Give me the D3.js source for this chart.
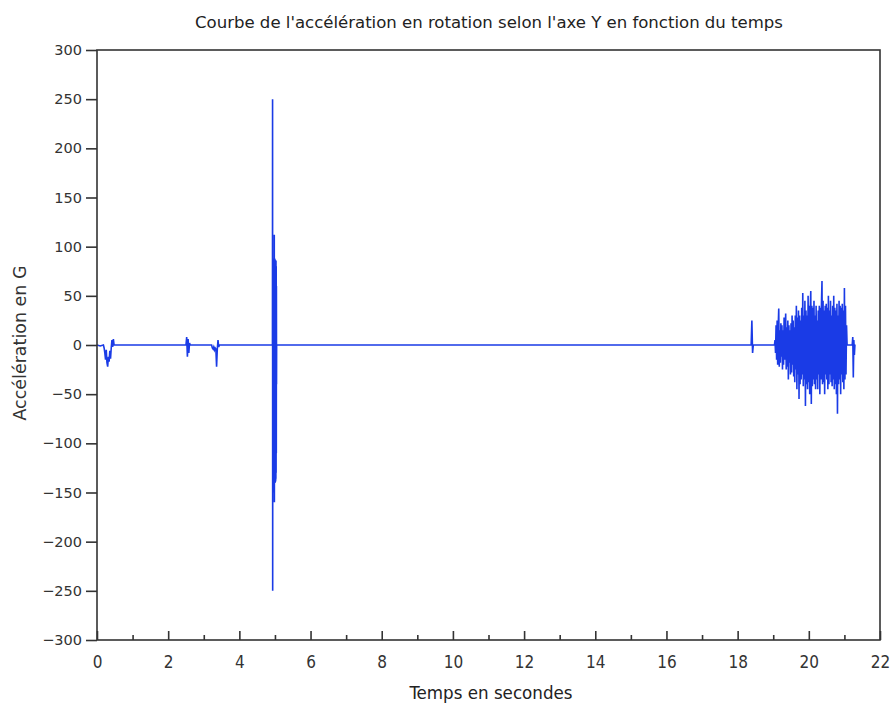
<!DOCTYPE html>
<html><head><meta charset="utf-8">
<script src="https://cdn.jsdelivr.net/npm/d3@7/dist/d3.min.js"></script>
<style>body{margin:0;background:#fff}</style>
</head><body>
<svg id="c" width="895" height="710"></svg>
<script>
// ---- data ----
const title = "Courbe de l'accélération en rotation selon l'axe Y en fonction du temps";
const xLabel = "Temps en secondes";
const yLabel = "Accélération en G";
const xTicks = [0,2,4,6,8,10,12,14,16,18,20,22];
const xMinorTicks = [1,3,5,7,9,11,13,15,17,19,21];
const yTicks = [300,250,200,150,100,50,0,-50,-100,-150,-200,-250,-300];

// sampled segments: start time, sample step, values
const segStart = [0.0, 0.18, 2.50, 3.22, 4.93, 18.38, 19.035, 21.09, 21.22];
const segStep  = [0.09, 0.02, 0.02, 0.02, 0.003, 0.02, 0.015, 0.06, 0.015];
const segA0 = [0, -1, 0];
const segA = [0,-3,-8,-15,-5,-18,-22,-12,-17,-6,-14,-3,5,-2,6,0];
const segB = [0,8,-12,6,-8,2,0];
const segC = [0,-3,-4,-2,-5,-3,-4,-22,-4,5,-2,0];
const segD = [0,250,-250,30,-60,88,-140,86,-138,85,-140,87,-139,86,-138,85,-150,112,-160,84,-140,88,-139,86,-138,87,-140,85,-139,86,-138,84,-136,86,-130,80,-110,60,-40,0];
const segE = [0,25,-8,0];
const segF = [0,
 5,-8,20,-15,25,-20,18,37,-22,15,
 -18,22,-12,20,-25,15,-20,28,-15,12,
 32,-25,18,-22,25,-35,20,-18,15,-30,
 22,-28,30,-20,25,-32,18,-38,30,-25,
 40,-45,28,-30,35,-55,30,-40,25,-35,
 38,-30,53,-42,30,-35,45,-62,35,-40,
 30,-45,50,-38,40,-50,35,55,-60,40,
 -42,38,-35,45,-40,30,-45,40,-35,25,
 -45,35,-30,40,-50,38,-35,42,65,-40,
 45,-38,35,-50,40,-30,42,-35,38,-45,
 50,-40,35,-30,45,-38,30,-42,40,-35,
 50,-45,38,-40,35,-50,42,-70,30,-40,
 45,-35,40,-50,38,-30,42,-38,35,-45,
 58,-35,40,-30,20,0];
const segG = [0,0,0];
const segH = [0,8,-33,5,-10,0,0];
const segValues = [segA0, segA, segB, segC, segD, segE, segF, segG, segH];

// ---- build points ----
const points = [];
segValues.forEach((vals, k) => {
  vals.forEach((v, i) => points.push([segStart[k] + i * segStep[k], v]));
});

// ---- layout ----
const svg = d3.select("#c");
const L = 97, R = 880, T = 50, B = 640;
const x = d3.scaleLinear().domain([0,22]).range([L,R]);
const y = d3.scaleLinear().domain([-300,300]).range([B,T]);
const axisCol = "#333";
const cond = "DejaVu Sans Condensed, DejaVu Sans";

svg.append("text").attr("x", 489).attr("y", 28).attr("text-anchor","middle")
  .attr("font-family",cond).attr("font-size",16)
  .attr("textLength",588).attr("lengthAdjust","spacingAndGlyphs")
  .attr("fill","#222").text(title);

// data line
const line = d3.line().x(d => x(d[0])).y(d => y(d[1]));
svg.append("path").datum(points).attr("d", line).attr("fill","none")
  .attr("stroke","#1a3be6").attr("stroke-width",1.6).attr("stroke-linejoin","miter");

// frame
svg.append("rect").attr("x",L).attr("y",T).attr("width",R-L).attr("height",B-T)
  .attr("fill","none").attr("stroke",axisCol).attr("stroke-width",1.6);

// y axis (ticks outward)
const yAxis = d3.axisLeft(y).tickValues(yTicks).tickSize(11).tickPadding(4)
  .tickFormat(d => d3.format("d")(d).replace("-", "\u2212"));
const gy = svg.append("g").attr("transform",`translate(${L},0)`).call(yAxis);
gy.select(".domain").remove();
gy.selectAll(".tick line").attr("stroke",axisCol).attr("stroke-width",1.6);
gy.selectAll(".tick text").attr("font-family","DejaVu Sans").attr("font-size",14.5).attr("fill","#333");

// x axis (ticks inward)
const xAxis = d3.axisBottom(x).tickValues(xTicks).tickSize(-9).tickPadding(16).tickFormat(d3.format("d"));
const gx = svg.append("g").attr("transform",`translate(0,${B})`).call(xAxis);
gx.select(".domain").remove();
gx.selectAll(".tick line").attr("stroke",axisCol).attr("stroke-width",1.6);
gx.selectAll(".tick text").attr("font-family",cond).attr("font-size",17).attr("fill","#333");
const gxm = svg.append("g").attr("transform",`translate(0,${B})`)
  .call(d3.axisBottom(x).tickValues(xMinorTicks).tickSize(-5).tickFormat(""));
gxm.select(".domain").remove();
gxm.selectAll(".tick line").attr("stroke",axisCol).attr("stroke-width",1.6);

// axis labels
svg.append("text").attr("x", 491).attr("y", 699).attr("text-anchor","middle")
  .attr("font-family",cond).attr("font-size",17)
  .attr("textLength",163).attr("lengthAdjust","spacingAndGlyphs")
  .attr("fill","#222").text(xLabel);
svg.append("text").attr("transform","translate(26,343) rotate(-90)").attr("text-anchor","middle")
  .attr("font-family",cond).attr("font-size",17)
  .attr("textLength",155).attr("lengthAdjust","spacingAndGlyphs")
  .attr("fill","#333").text(yLabel);
</script>
</body></html>
